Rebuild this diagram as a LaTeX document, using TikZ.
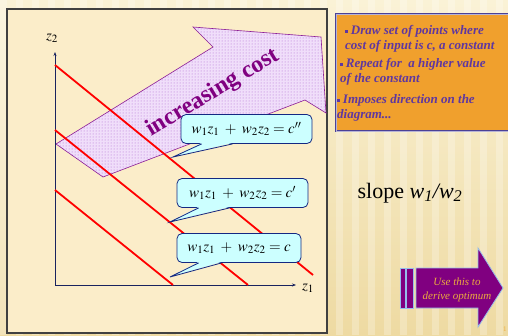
\documentclass[tikz,border=0pt]{standalone}
\usepackage{mathptmx}
\usepackage{fontspec}
\setmainfont{Liberation Serif}
\usetikzlibrary{positioning,patterns,arrows.meta}

\begin{document}
\begin{tikzpicture}[
    x=1pt, y=-1pt,
    every node/.style={
        inner sep=0pt
    },
    panel/.style={
        draw=black!75,
        line width=1.2pt,
        fill=panelcolor
    },
    axis/.style={-{Stealth[length=4pt,width=3pt]}, draw=axiscolor, line width=0.8pt},
    budget/.style={draw=red, line width=1.8pt},
    costarrow/.style={
        draw=arrowline,
        line width=0.6pt,
        preaction={fill=arrowfill},
        pattern=dots,
        pattern color=dotcolor
    },
    costtext/.style={
        text=costcolor,
        font=\fontsize{24}{26}\selectfont\bfseries
    },
    bubble/.style={
        draw=bubbleline,
        fill=bubblefill,
        line width=0.8pt,
        rounded corners=5pt,
        minimum height=29pt,
        font=\fontsize{15}{17}\selectfont
    },
    notebox/.style={
        draw=noteline,
        double=noteline!40,
        double distance=0.8pt,
        line width=1pt,
        fill=notefill
    },
    notetext/.style={
        anchor=north west,
        align=left,
        text=notecolor,
        font=\fontsize{13}{15}\selectfont\bfseries\itshape
    },
    derive/.style={
        draw=deriveline,
        line width=0.8pt,
        fill=derivefill
    }
]

%--- Color Definitions ---%
\definecolor{bgtop}{RGB}{250,242,214}
\definecolor{bgbottom}{RGB}{238,218,162}
\definecolor{panelcolor}{RGB}{251,237,201}
\definecolor{axiscolor}{RGB}{25,35,95}
\definecolor{arrowfill}{RGB}{240,222,250}
\definecolor{arrowline}{RGB}{140,30,150}
\definecolor{dotcolor}{RGB}{175,105,210}
\definecolor{costcolor}{RGB}{128,0,128}
\definecolor{bubblefill}{RGB}{204,255,255}
\definecolor{bubbleline}{RGB}{20,40,130}
\definecolor{notefill}{RGB}{240,160,45}
\definecolor{noteline}{RGB}{75,65,150}
\definecolor{notecolor}{RGB}{95,55,160}
\definecolor{derivefill}{RGB}{128,0,128}
\definecolor{deriveline}{RGB}{150,190,235}
\definecolor{derivetext}{RGB}{236,172,62}

\useasboundingbox (0,0) rectangle (508,335);

%-----------------------------------------------
% BACKGROUND
%-----------------------------------------------
\shade[top color=bgtop, bottom color=bgbottom] (0,0) rectangle (508,335);
\foreach \sx in {0,16,...,496} {
    \fill[white, opacity=0.25] (\sx,0) rectangle ++(7,335);
}

\draw[panel] (7,9) rectangle (327,333);

%-----------------------------------------------
% INCREASING COST ARROW
%-----------------------------------------------
\path[costarrow] (193,27) -- (321,37) -- (326,113) -- (305,100)
    -- (103,177) -- (56,144) -- (213,47) -- cycle;

%-----------------------------------------------
% AXES
%-----------------------------------------------
\coordinate (origin) at (55,285);
\draw[axis] (origin) -- (55,52);
\draw[axis] (origin) -- (296,285);
\node (zt) at (52,38) {\fontsize{15}{17}\selectfont$z_2$};
\node (zr) at (308,288) {\fontsize{15}{17}\selectfont$z_1$};

%-----------------------------------------------
% ISO-COST LINES
%-----------------------------------------------
\draw[budget] (55,190) -- (173,285);
\draw[budget] (55,130) -- (248,285);
\draw[budget] (55,65)  -- (313,275);

\node[costtext, rotate=31] (costlabel) at (213,93) {increasing cost};

%-----------------------------------------------
% CALLOUTS
%-----------------------------------------------
\node[bubble, minimum width=131pt] (cpp) at (246.5,129) {$w_1z_1 \;+\; w_2z_2 = c''$};
\node[bubble, minimum width=131pt] (cp)  at (242.5,193) {$w_1z_1 \;+\; w_2z_2 = c'$};
\node[bubble, minimum width=124pt] (cz)  at (239,248)   {$w_1z_1 \;+\; w_2z_2 = c$};

\coordinate (cpptip) at (173,157);
\coordinate (cptip)  at (170,222);
\coordinate (cztip)  at (170,277);

\foreach \b/\t/\l/\r in {cpp/cpptip/21/52, cp/cptip/22/53, cz/cztip/22/45} {
    \fill[bubblefill] ([xshift=\l pt, yshift=1pt]\b.south west) -- (\t)
        -- ([xshift=\r pt, yshift=1pt]\b.south west) -- cycle;
    \draw[bubbleline, line width=0.8pt] ([xshift=\l pt]\b.south west) -- (\t)
        -- ([xshift=\r pt]\b.south west);
}

%-----------------------------------------------
% NOTE BOX
%-----------------------------------------------
\draw[notebox] (336,14) rectangle (512,131);

\node[notetext] (noteone) at (345,25)
    {\rule[1.5pt]{2.5pt}{2.5pt} Draw set of points where\\cost of input is c, a constant};
\node[notetext] (notetwo) at (340,58)
    {\rule[1.5pt]{2.5pt}{2.5pt} Repeat for\ \ a higher value\\of the constant};
\node[notetext] (notethree) at (337,94)
    {\rule[1.5pt]{2.5pt}{2.5pt} Imposes direction on the\\diagram...};

%-----------------------------------------------
% SLOPE LABEL
%-----------------------------------------------
\node[font=\fontsize{22}{24}\selectfont] (slope) at (410,193)
    {slope \textit{w\textsubscript{1}/w\textsubscript{2}}};

%-----------------------------------------------
% DERIVE ARROW
%-----------------------------------------------
\draw[derive] (400,268) rectangle (405,308);
\draw[derive] (406,268) rectangle (413,308);
\draw[derive] (416,268) -- (478,268) -- (478,248) -- (503,288)
    -- (478,327) -- (478,308) -- (416,308) -- cycle;
\node[align=center, text=derivetext, font=\fontsize{11}{14}\selectfont\itshape]
    (derivelabel) at (457,290) {Use this to\\derive optimum};

\node[anchor=west, text=derivetext, font=\fontsize{7}{8}\selectfont] (pagenum) at (503,329) {1};

\end{tikzpicture}
\end{document}
